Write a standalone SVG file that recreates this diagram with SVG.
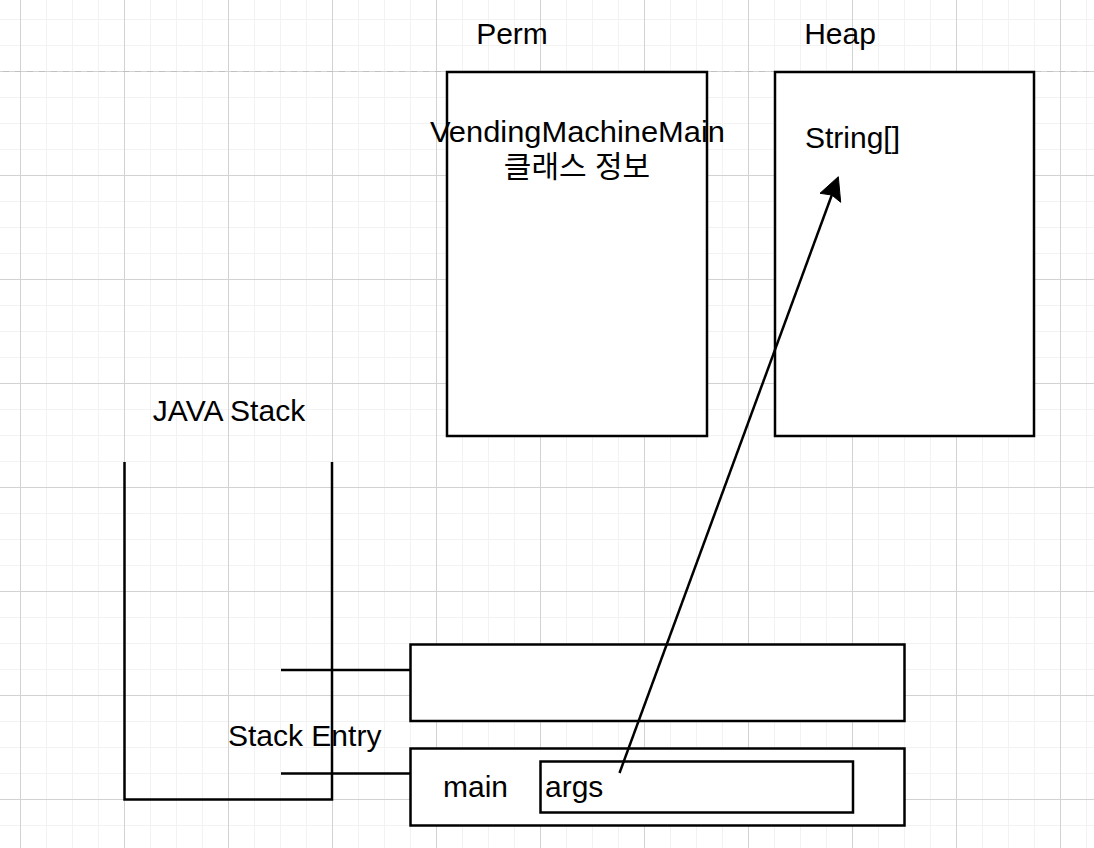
<svg xmlns="http://www.w3.org/2000/svg" width="1094" height="848" viewBox="0 0 1094 848">
<style>
  .box{fill:#fff;stroke:#000;stroke-width:2.5}
  .ln{fill:none;stroke:#000;stroke-width:2.5}
  .t{font-family:"Liberation Sans",Arial,Helvetica,sans-serif;font-size:30px;fill:#000}
  .k{font-family:"Liberation Sans","Noto Sans CJK KR",sans-serif;font-size:30px;fill:#000}
</style>
<defs>
  <pattern id="minor" patternUnits="userSpaceOnUse" x="20" y="19" width="26" height="26">
    <path d="M0.5 0V26M0 0.5H26" stroke="#f2f2f2" stroke-width="1" fill="none"/>
  </pattern>
  <pattern id="major" patternUnits="userSpaceOnUse" x="20" y="71" width="104" height="104">
    <path d="M0.5 0V104M0 0.5H104" stroke="#d2d2d2" stroke-width="1" fill="none"/>
  </pattern>
</defs>
<g id="background">
  <rect width="1094" height="848" fill="#fff"/>
  <rect width="1094" height="848" fill="url(#minor)"/>
  <rect width="1094" height="848" fill="url(#major)"/>
  <line x1="3" y1="71.5" x2="1094" y2="71.5" stroke="#c0c0c0" stroke-width="1.2" stroke-dasharray="6 6"/>
</g>
<g id="perm-label"><text class="t" x="512" y="44" text-anchor="middle">Perm</text></g>
<g id="heap-label"><text class="t" x="840" y="44" text-anchor="middle">Heap</text></g>
<g id="perm">
  <rect class="box" x="447" y="72" width="260" height="364"/>
  <text class="t" x="577.5" y="142" text-anchor="middle" textLength="295" lengthAdjust="spacingAndGlyphs">VendingMachineMain</text>
  <text class="k" x="577" y="177" text-anchor="middle">클래스 정보</text>
</g>
<g id="heap">
  <rect class="box" x="775" y="72" width="259" height="364"/>
  <text class="t" x="805" y="148">String[]</text>
</g>
<g id="java-stack-label"><text class="t" x="229" y="421" text-anchor="middle">JAVA Stack</text></g>
<g id="java-stack">
  <path class="ln" d="M124.5 462V799.5H332V462"/>
</g>
<g id="stack-entry-label"><text class="t" x="228" y="746">Stack Entry</text></g>
<g id="stack-entry-1">
  <rect class="box" x="410.5" y="644.5" width="494" height="76.5"/>
</g>
<g id="stack-entry-main">
  <rect class="box" x="410.5" y="748.5" width="494" height="77"/>
  <text class="t" x="443" y="797">main</text>
</g>
<g id="args">
  <rect class="box" x="540.5" y="761.5" width="312.5" height="51"/>
  <text class="t" x="545" y="797">args</text>
</g>
<g id="connectors">
  <line class="ln" x1="281" y1="670" x2="410.5" y2="670"/>
  <line class="ln" x1="281" y1="773.5" x2="410.5" y2="773.5"/>
  <line class="ln" x1="619.5" y1="773" x2="832" y2="194.5"/>
  <polygon points="838.3,176.7 840.7,202.3 831.8,195 820,193.3" fill="#000" stroke="#000" stroke-width="1" stroke-linejoin="miter"/>
</g>
</svg>
